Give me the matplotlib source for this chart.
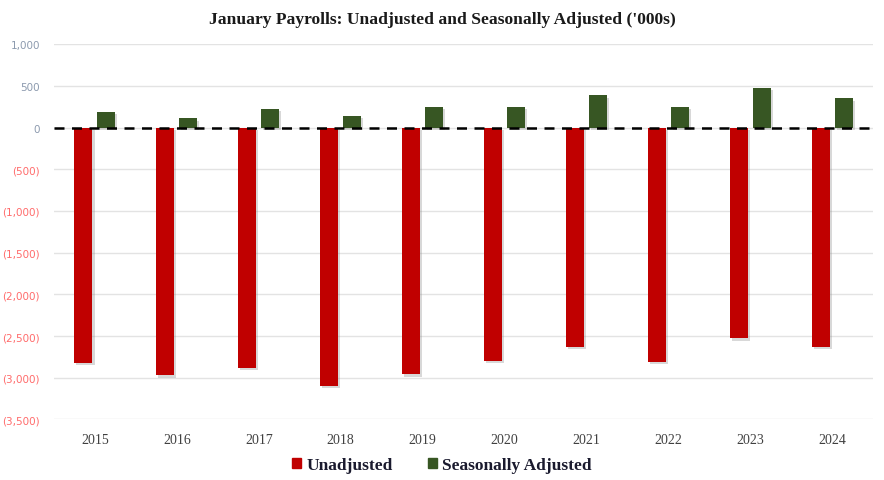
import matplotlib
matplotlib.use("Agg")
import matplotlib.pyplot as plt
import matplotlib.patheffects as pe
from matplotlib.ticker import FuncFormatter, MultipleLocator
from matplotlib.patches import Patch
import numpy as np

years = ["2015", "2016", "2017", "2018", "2019", "2020", "2021", "2022", "2023", "2024"]
unadjusted = [-2821, -2973, -2881, -3104, -2961, -2801, -2633, -2813, -2529, -2633]
seasonally_adjusted = [185, 109, 221, 140, 245, 245, 385, 245, 476, 349]

red = "#C00000"
green = "#375623"

fig = plt.figure(figsize=(8.84, 4.81), dpi=100)
ax = fig.add_axes([0.061, 0.126, 0.927, 0.780])

x = np.arange(len(years))
w = 0.22
off = 0.14
shadow = [pe.SimplePatchShadow(offset=(1.5, -1.5), shadow_rgbFace="#808080", alpha=0.3), pe.Normal()]
b1 = ax.bar(x - off, unadjusted, w, color=red, zorder=3)
b2 = ax.bar(x + off, seasonally_adjusted, w, color=green, zorder=3)
for b in list(b1) + list(b2):
    b.set_path_effects(shadow)

ax.axhline(0, color="black", lw=1.8, ls=(0, (4, 3)), zorder=4)

ax.set_ylim(-3500, 1000)
ax.set_xlim(-0.5, len(years) - 0.5)
ax.yaxis.set_major_locator(MultipleLocator(500))
ax.grid(axis="y", color="#e3e3e3", lw=1, zorder=0)
ax.set_axisbelow(True)

def fmt(v, pos):
    if v < 0:
        return "({:,.0f})".format(-v)
    return "{:,.0f}".format(v)

ax.yaxis.set_major_formatter(FuncFormatter(fmt))
ax.tick_params(axis="y", length=0, pad=10, labelsize=7.5)
ax.tick_params(axis="x", length=0, pad=10)
fig.canvas.draw()
for t, v in zip(ax.get_yticklabels(), ax.get_yticks()):
    t.set_color("#FF6B6B" if v < 0 else "#8C9AAE")
    t.set_fontfamily("DejaVu Sans")

ax.set_xticks(x)
ax.set_xticklabels(years, fontfamily="Liberation Serif", fontsize=10, color="#404040")

for s in ax.spines.values():
    s.set_visible(False)

fig.text(0.5, 0.958, "January Payrolls: Unadjusted and Seasonally Adjusted ('000s)",
         ha="center", va="center", fontfamily="Liberation Serif", fontweight="bold",
         fontsize=12.6, color="#1a1a1a")

handles = [Patch(color=red, label="Unadjusted"), Patch(color=green, label="Seasonally Adjusted")]
fig.legend(handles=handles, loc="center", bbox_to_anchor=(0.5, 0.031), ncol=2, frameon=False,
           prop={"family": "Liberation Serif", "weight": "bold", "size": 12.5},
           handlelength=0.55, handleheight=0.55, handletextpad=0.3, columnspacing=2.0,
           labelcolor="#1a1a2e")

fig.savefig("out.png", dpi=100)
